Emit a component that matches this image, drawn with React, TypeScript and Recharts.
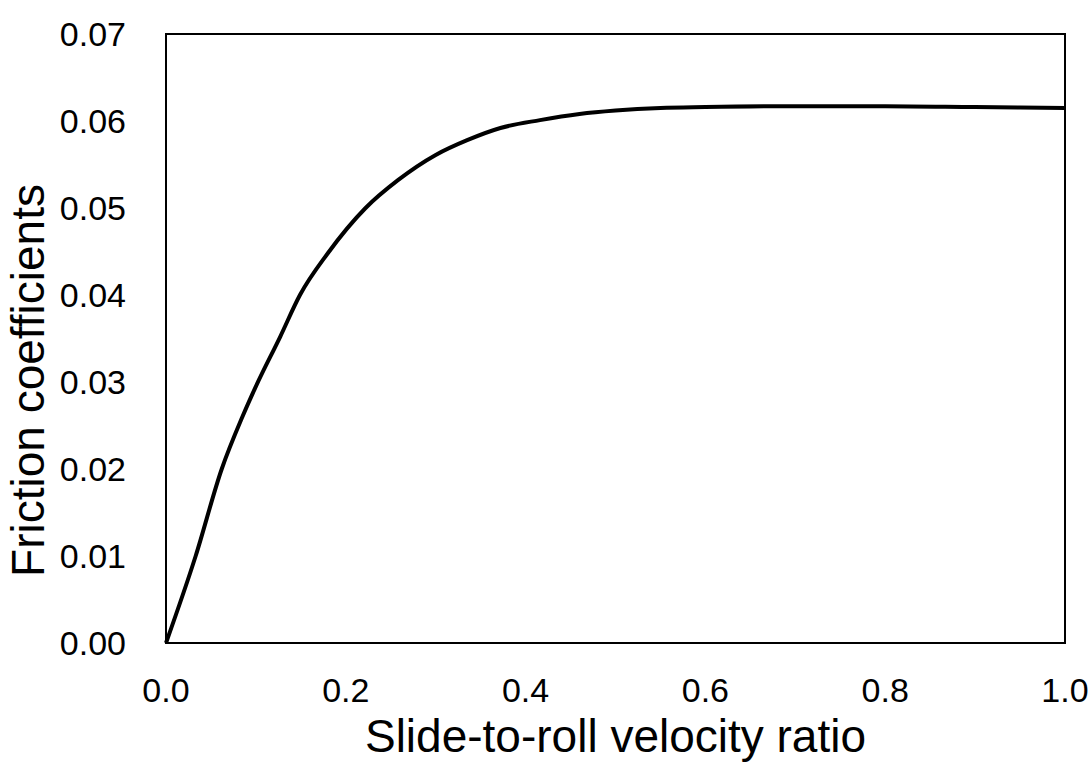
import { LineChart, Line, XAxis, YAxis, Label, ReferenceArea } from 'recharts';

const ratio = [0, 0.033, 0.062, 0.085, 0.1, 0.127, 0.149, 0.18, 0.222, 0.258, 0.3, 0.335, 0.372, 0.416, 0.46, 0.5, 0.55, 0.6, 0.7, 0.8, 0.9, 1.0];
const friction = [0, 0.01, 0.02, 0.026, 0.0295, 0.0352, 0.04, 0.0448, 0.05, 0.0532, 0.0561, 0.0578, 0.0592, 0.0601, 0.0608, 0.0612, 0.0615, 0.0616, 0.0617, 0.0617, 0.0616, 0.0615];

const xTicks = [0, 0.2, 0.4, 0.6, 0.8, 1.0];
const yTicks = [0, 0.01, 0.02, 0.03, 0.04, 0.05, 0.06, 0.07];

const data = ratio.map((r, i) => ({ r, f: friction[i] }));

const font = '"Liberation Sans", Arial, sans-serif';

export default function App() {
    const tickStyle = { fill: '#000', fontSize: 34, fontFamily: font };

    return (
        <div style={{ position: 'absolute', left: 0, top: 0 }}>
            <LineChart width={1088} height={763} data={data} margin={{ top: 34, right: 23, left: 0, bottom: 0 }}>
                <XAxis
                    dataKey="r"
                    type="number"
                    domain={[0, 1]}
                    ticks={xTicks}
                    tickFormatter={(v: number) => v.toFixed(1)}
                    height={120}
                    tickSize={0}
                    tickMargin={35}
                    tick={tickStyle}
                    axisLine={{ stroke: '#000', strokeWidth: 2 }}
                >
                    <Label
                        value="Slide-to-roll velocity ratio"
                        position="insideBottom"
                        offset={11}
                        style={{ fill: '#000', fontSize: 46, fontFamily: font }}
                    />
                </XAxis>
                <YAxis
                    type="number"
                    domain={[0, 0.07]}
                    ticks={yTicks}
                    tickFormatter={(v: number) => v.toFixed(2)}
                    width={166}
                    tickSize={0}
                    tickMargin={40}
                    tick={tickStyle}
                    axisLine={{ stroke: '#000', strokeWidth: 2 }}
                >
                    <Label
                        content={(props: any) => {
                            const vb = props.viewBox;
                            const cx = vb.x + 28;
                            const cy = vb.y + vb.height / 2 + 42;
                            return (
                                <text
                                    x={cx}
                                    y={cy}
                                    transform={`rotate(-90, ${cx}, ${cy})`}
                                    textAnchor="middle"
                                    dominantBaseline="central"
                                    style={{ fill: '#000', fontSize: 46, fontFamily: font }}
                                >
                                    Friction coefficients
                                </text>
                            );
                        }}
                    />
                </YAxis>
                <ReferenceArea x1={0} x2={1} y1={0} y2={0.07} fill="none" stroke="#000" strokeWidth={2} ifOverflow="visible" />
                <Line
                    type="monotone"
                    dataKey="f"
                    stroke="#000"
                    strokeWidth={4}
                    dot={false}
                    isAnimationActive={false}
                />
            </LineChart>
        </div>
    );
}
